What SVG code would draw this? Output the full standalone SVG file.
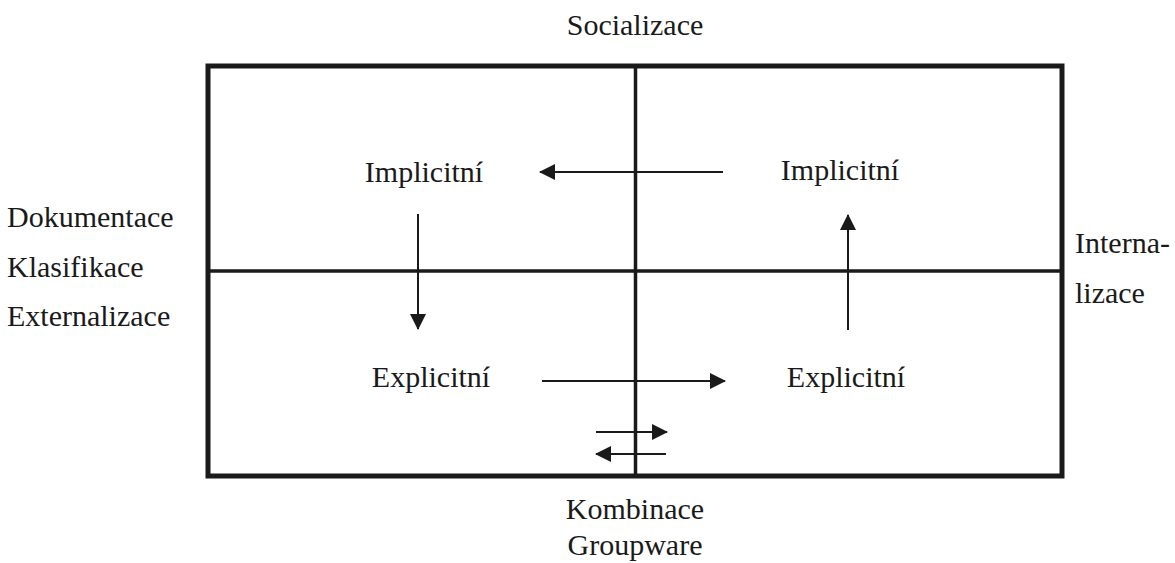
<svg xmlns="http://www.w3.org/2000/svg" width="1175" height="563" viewBox="0 0 1175 563">
<defs>
<style>
text{font-family:"Liberation Serif","DejaVu Serif",serif;font-size:30px;fill:#1a1a1a}
.frame{fill:none;stroke:#1a1a1a;stroke-width:5}
.div{stroke:#1a1a1a;stroke-width:3.5;fill:none}
.arr{stroke:#1a1a1a;stroke-width:2;fill:none;marker-end:url(#ah)}
.m{text-anchor:middle}
</style>
<marker id="ah" markerUnits="userSpaceOnUse" markerWidth="16" markerHeight="16" refX="15" refY="8" orient="auto" viewBox="0 0 16 16">
<path d="M0,0 L16,8 L0,16 z" fill="#1a1a1a"/>
</marker>
</defs>
<g id="frame">
<rect class="frame" x="208" y="66" width="854" height="410"/>
<line class="div" x1="635.5" y1="66" x2="635.5" y2="476"/>
<line class="div" x1="208" y1="271" x2="1062" y2="271"/>
</g>
<g id="connectors">
<line class="arr" x1="723" y1="172" x2="540" y2="172"/>
<line class="arr" x1="418" y1="214" x2="418" y2="329"/>
<line class="arr" x1="542" y1="381" x2="725" y2="381"/>
<line class="arr" x1="848" y1="330" x2="848" y2="215"/>
<line class="arr" x1="596" y1="432" x2="667" y2="432"/>
<line class="arr" x1="666" y1="454" x2="596" y2="454"/>
</g>
<g id="socializace"><text class="m" x="635" y="35">Socializace</text></g>
<g id="implicitni-left"><text class="m" x="424" y="182">Implicitní</text></g>
<g id="implicitni-right"><text class="m" x="840" y="180">Implicitní</text></g>
<g id="explicitni-left"><text class="m" x="431" y="387">Explicitní</text></g>
<g id="explicitni-right"><text class="m" x="846" y="387">Explicitní</text></g>
<g id="externalizace">
<text x="7" y="227">Dokumentace</text>
<text x="7" y="277">Klasifikace</text>
<text x="7" y="326">Externalizace</text>
</g>
<g id="internalizace">
<text x="1075" y="253">Interna-</text>
<text x="1075" y="303">lizace</text>
</g>
<g id="kombinace">
<text class="m" x="635" y="519">Kombinace</text>
<text class="m" x="635" y="555">Groupware</text>
</g>
</svg>
